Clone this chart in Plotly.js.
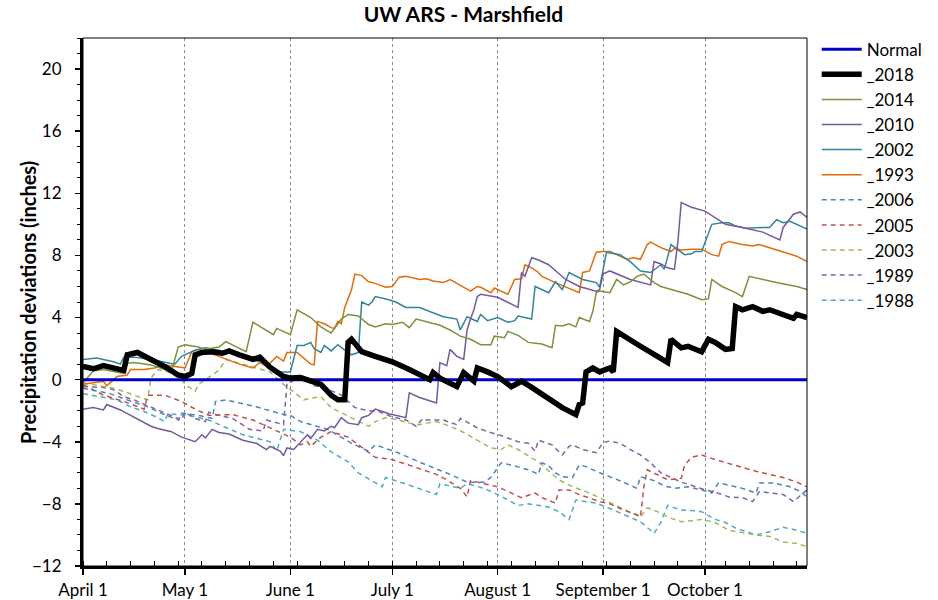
<!DOCTYPE html>
<html>
<head>
<meta charset="utf-8">
<script src="https://cdn.plot.ly/plotly-3.0.1.min.js"></script>
<style>html,body{margin:0;padding:0;background:#fff;}#chart{width:938px;height:600px;}</style>
</head>
<body>
<div id="chart"></div>
<script>
// Day 0 = April 1
const tickDays = [0, 30, 61, 91, 122, 153, 183];
const tickLabels = ["April 1", "May 1", "June 1", "July 1", "August 1", "September 1", "October 1"];
const yTicks = [-12, -8, -4, 0, 4, 8, 12, 16, 20];

const normalDays = [0, 213];
const normalVals = [0, 0];

const d2018 = [0,3,6,11,12,13,16,20,24,28,30,32,33,35,38,41,43,46,50,52,55,59,61,64,70,73,75,77,78,79,82,86,91,96,102,103,105,110,112,115,116,119,122,126,129,132,135,138,141,145,146,147,148,150,152,155,156,157,159,164,169,172,173,176,178,182,184,186,189,191,192,194,197,200,202,206,209,210,213];
const v2018 = [0.85,0.7,0.9,0.65,0.6,1.6,1.75,1.3,0.85,0.3,0.2,0.4,1.6,1.75,1.8,1.7,1.85,1.6,1.3,1.45,0.8,0.2,0.1,0.13,-0.3,-1.0,-1.3,-1.3,2.4,2.6,1.8,1.5,1.15,0.65,0.0,0.45,0.1,-0.45,0.45,-0.1,0.75,0.5,0.2,-0.45,-0.1,-0.5,-0.95,-1.3,-1.8,-2.25,-1.6,-1.5,0.5,0.75,0.5,0.75,0.5,3.1,2.8,2.15,1.5,1.1,2.6,2.05,2.15,1.8,2.6,2.4,1.95,2.0,4.7,4.5,4.7,4.4,4.5,4.2,3.95,4.2,4.0];

const d2014 = [0,3,6,12,13,15,20,26,28,30,34,36,40,42,48,50,56,57,61,63,67,70,73,74,76,78,81,84,86,89,91,94,96,98,102,105,108,111,114,117,120,121,124,125,128,131,135,138,139,141,143,145,146,149,150,151,152,155,157,159,161,163,165,168,170,173,178,182,184,185,188,192,194,196,200,204,210,213];
const v2014 = [-0.2,0.55,0.65,0.4,1.05,1.1,0.95,0.5,2.1,2.25,2.1,1.95,2.1,2.45,1.8,3.7,2.9,3.3,2.9,4.5,4.0,3.4,3.0,3.3,3.9,4.2,4.1,3.55,3.4,3.6,3.55,3.7,3.35,3.9,3.7,3.5,3.2,2.8,2.6,2.25,2.25,2.8,2.7,3.1,2.85,2.4,2.3,2.05,3.5,3.45,3.6,3.4,4.0,3.75,4.4,5.6,5.7,5.6,6.45,6.1,6.3,6.65,6.8,6.25,6.0,5.8,5.5,5.15,5.2,6.45,6.0,5.6,5.35,6.65,6.45,6.25,6.0,5.8];

const d2010 = [0,3,6,7,11,15,20,22,26,29,33,35,36,38,40,43,47,51,54,55,58,59,60,62,64,66,67,69,71,73,74,76,78,81,82,84,86,89,90,95,96,99,104,105,107,108,110,112,113,114,115,116,117,122,125,128,129,130,132,134,137,139,142,146,151,152,153,155,158,161,167,168,170,172,174,175,176,179,183,186,189,194,200,205,206,209,211,213];
const v2010 = [-1.9,-1.8,-1.95,-1.6,-1.95,-2.4,-3.0,-3.15,-3.35,-3.7,-4.0,-3.55,-3.75,-3.2,-3.4,-3.5,-3.9,-4.1,-4.5,-4.3,-4.6,-4.9,-4.4,-4.5,-4.0,-3.55,-3.8,-3.2,-3.3,-3.0,-3.1,-2.45,-2.8,-2.9,-2.45,-2.3,-1.9,-2.1,-2.2,-2.45,-0.85,-1.15,-1.5,1.1,0.9,1.95,1.5,1.3,3.2,3.9,4.5,5.35,5.5,5.3,5.0,4.65,6.9,6.65,7.85,7.7,7.4,7.0,6.45,6.0,5.7,5.8,6.8,7.0,6.75,6.45,6.1,7.6,7.45,7.2,7.1,8.85,11.4,11.1,10.85,10.45,10.0,9.8,9.5,9.0,9.8,10.65,10.8,10.45];

const d2002 = [0,4,9,11,12,15,20,25,27,29,33,36,42,47,51,54,57,61,63,65,67,68,70,71,73,75,77,79,81,82,84,85,86,90,92,95,99,102,106,110,111,113,116,117,119,122,125,127,128,132,133,137,139,141,143,147,151,152,154,158,161,164,167,170,171,173,175,177,179,180,182,183,185,188,190,192,195,200,202,204,206,208,210,213];
const v2002 = [1.3,1.4,1.15,1.0,1.45,1.45,1.3,1.1,1.0,1.5,1.9,2.05,1.8,1.5,1.2,1.0,0.5,0.5,2.2,2.2,2.4,2.0,1.75,2.2,1.85,2.25,1.9,1.6,1.75,5.0,4.8,5.0,5.35,5.15,5.0,4.65,4.65,4.4,4.05,3.9,3.2,4.05,3.75,4.2,3.8,4.0,3.7,3.8,4.1,3.9,6.0,5.6,6.3,5.8,6.9,6.45,6.25,5.95,8.2,8.05,7.6,7.0,6.9,7.4,7.1,8.7,8.4,8.05,8.1,8.25,8.25,8.85,10.0,10.1,10.1,9.9,9.75,9.8,9.8,10.3,10.1,10.2,10.0,9.7];

const d1993 = [0,6,7,9,10,13,14,18,21,24,28,30,32,34,40,46,50,52,54,57,59,60,63,65,67,68,69,71,73,74,75,76,77,79,80,82,84,86,89,91,93,95,99,101,103,106,108,110,114,116,117,120,121,123,125,127,129,130,132,134,135,139,142,146,147,149,151,153,155,158,160,162,164,166,167,170,173,174,176,179,182,185,187,188,190,194,197,199,202,206,210,213];
const v1993 = [-0.3,-0.1,-0.4,0.0,0.2,0.3,0.65,0.65,0.75,0.95,0.8,0.75,1.8,1.95,1.5,1.0,0.75,1.1,0.85,1.5,1.2,1.75,1.75,1.4,1.0,0.95,3.75,3.6,3.35,3.3,3.75,3.6,4.65,5.8,6.8,6.7,6.3,6.2,5.95,6.0,6.6,6.65,6.45,6.5,6.35,6.25,6.45,6.2,5.7,6.0,5.95,5.6,5.9,5.7,5.5,6.45,6.5,7.4,7.2,6.9,6.65,6.25,5.95,5.6,6.9,7.0,8.2,8.25,8.25,7.95,7.75,7.85,7.75,8.7,8.85,8.5,8.25,8.45,8.35,8.4,8.4,8.05,7.95,8.7,8.9,8.7,8.6,8.7,8.5,8.25,7.95,7.6];

const d2006 = [0,8,13,19,24,28,29,34,38,39,42,51,59,61,64,72,79,84,86,92,100,108,113,118,120,121,123,126,131,134,135,137,139,141,144,146,148,152,159,163,164,168,171,174,178,182,185,187,192,194,198,199,203,208,211,213];
const v2006 = [-0.55,-0.9,-1.3,-1.75,-2.25,-2.6,-2.15,-2.3,-2.5,-1.4,-1.3,-1.75,-2.25,-2.3,-2.7,-3.2,-4.1,-4.6,-4.2,-4.65,-5.4,-6.1,-6.6,-6.6,-6.3,-6.0,-5.35,-5.5,-5.8,-6.1,-5.35,-5.55,-6.0,-6.25,-6.3,-5.5,-5.6,-6.0,-6.6,-7.0,-6.25,-6.5,-6.85,-7.0,-6.9,-7.1,-7.3,-6.65,-6.9,-7.0,-7.3,-6.65,-6.65,-6.9,-7.2,-7.55];

const d2005 = [0,6,12,18,19,24,29,33,37,44,50,55,61,64,66,67,70,73,78,81,84,86,91,97,104,107,111,113,114,118,122,125,129,133,135,139,140,143,146,152,155,159,163,164,165,166,169,172,176,177,179,182,186,190,194,198,202,206,210,213];
const v2005 = [-0.3,-1.0,-1.4,-1.9,-1.0,-1.0,-1.4,-1.9,-2.3,-2.25,-2.6,-3.1,-3.7,-4.2,-4.0,-4.3,-3.7,-3.35,-3.7,-4.2,-4.65,-5.0,-5.15,-5.6,-6.1,-6.45,-7.0,-7.55,-6.5,-6.7,-6.9,-7.2,-7.6,-7.3,-7.6,-7.95,-7.1,-7.1,-7.4,-7.85,-8.0,-8.4,-8.7,-8.85,-6.9,-5.8,-6.1,-6.45,-6.35,-5.5,-5.0,-4.85,-5.15,-5.4,-5.7,-5.9,-6.1,-6.3,-6.6,-6.9];

const d2003 = [0,10,15,19,20,22,25,29,30,33,34,36,40,42,49,55,59,62,65,67,70,73,77,81,84,86,89,93,96,99,101,104,108,112,117,120,123,125,128,132,134,140,144,149,152,158,161,164,166,169,172,176,180,182,186,190,194,198,202,206,210,213];
const v2003 = [-0.2,-0.6,-1.0,-1.3,0.1,0.65,0.5,0.0,-0.3,-0.75,-0.3,0.0,0.6,1.3,0.85,0.5,-0.3,-0.8,-1.3,-1.2,-1.1,-1.8,-2.25,-2.7,-3.0,-2.7,-2.45,-2.6,-2.8,-2.9,-2.8,-2.7,-3.0,-3.4,-4.05,-4.4,-4.5,-4.2,-4.5,-5.0,-5.3,-6.45,-6.9,-7.3,-7.6,-8.25,-8.5,-8.85,-8.25,-8.5,-8.85,-9.15,-9.05,-9.0,-9.2,-9.7,-9.85,-10.0,-10.1,-10.45,-10.55,-10.75];

const d1989 = [0,6,9,12,15,20,23,27,29,30,33,36,37,40,44,49,53,54,57,59,60,64,68,71,76,80,84,87,91,95,98,100,101,106,110,111,116,119,123,128,131,133,134,138,141,143,144,147,151,153,155,158,161,164,167,170,173,176,179,183,186,190,194,197,199,202,206,209,211,213];
const v1989 = [-0.45,-0.5,-0.65,-1.1,-1.3,-1.75,-2.05,-2.4,-2.6,-2.1,-2.5,-2.7,-2.1,-2.3,-2.5,-3.2,-3.3,-2.6,-2.8,-2.9,-0.3,0.2,-0.4,-0.5,-1.0,-1.8,-2.0,-2.05,-2.4,-2.6,-3.0,-2.5,-2.6,-2.6,-2.9,-2.5,-3.1,-3.35,-3.6,-4.0,-4.1,-4.6,-3.9,-4.2,-4.85,-4.3,-4.2,-4.5,-4.7,-4.05,-3.95,-4.1,-4.5,-4.85,-5.35,-6.0,-6.3,-6.6,-6.8,-7.1,-7.25,-7.55,-7.6,-7.85,-7.2,-7.3,-7.4,-7.85,-7.5,-7.1];

const d1988 = [0,10,14,18,22,24,25,31,37,47,55,57,59,64,69,73,78,81,88,89,96,104,105,111,113,118,122,128,131,137,140,143,145,151,155,161,164,168,170,172,176,180,182,186,189,192,198,202,206,210,213];
const v1988 = [-0.9,-1.3,-1.75,-2.05,-2.45,-2.7,-2.2,-2.3,-2.6,-3.55,-4.0,-4.6,-3.2,-3.35,-3.9,-4.65,-5.3,-6.0,-6.9,-6.3,-6.8,-7.4,-6.7,-7.0,-6.7,-7.0,-7.4,-8.1,-8.0,-8.2,-8.5,-9.0,-7.75,-7.95,-8.3,-8.85,-9.15,-9.9,-9.2,-8.1,-8.4,-8.45,-8.5,-9.0,-9.2,-9.55,-10.0,-9.8,-9.5,-9.7,-9.9];

const FONT = "Lato, 'Open Sans', sans-serif";

function tr(name, x, y, color, width, dash, rank) {
  return {type: 'scatter', mode: 'lines', name: name, x: x, y: y,
    line: {color: color, width: width, dash: dash || 'solid'},
    legendrank: rank, hoverinfo: 'skip'};
}

const dashPat = '5px,4px';
const traces = [
  tr('_1988', d1988, v1988, '#4BACC6', 1.5, dashPat, 11),
  tr('_1989', d1989, v1989, '#8064A2', 1.5, dashPat, 10),
  tr('_2003', d2003, v2003, '#9BBB59', 1.5, dashPat, 9),
  tr('_2005', d2005, v2005, '#C0504D', 1.5, dashPat, 8),
  tr('_2006', d2006, v2006, '#4F81BD', 1.5, dashPat, 7),
  tr('_1993', d1993, v1993, '#E36C09', 1.5, null, 6),
  tr('_2002', d2002, v2002, '#31859C', 1.5, null, 5),
  tr('_2010', d2010, v2010, '#75599C', 1.5, null, 4),
  tr('_2014', d2014, v2014, '#77933C', 1.5, null, 3),
  tr('Normal', normalDays, normalVals, '#0000CC', 3, null, 1),
  tr('_2018', d2018, v2018, '#000000', 5.5, null, 2)
];

const layout = {
  width: 938, height: 600,
  margin: {l: 83, r: 130, t: 38, b: 34, pad: 0},
  paper_bgcolor: '#ffffff', plot_bgcolor: '#ffffff',
  font: {family: FONT, size: 17, color: '#000'},
  title: {text: '<b>UW ARS - Marshfield</b>', x: 0.494, xref: 'container', xanchor: 'center',
    y: 0.975, yanchor: 'middle',
    font: {family: FONT, size: 21, color: '#000'}},
  showlegend: true,
  legend: {x: 1.012, xanchor: 'left', y: 1.012, yanchor: 'top', bgcolor: 'rgba(0,0,0,0)',
    font: {family: FONT, size: 17}, itemwidth: 40, tracegroupgap: 0},
  xaxis: {range: [0, 213], tickmode: 'array', tickvals: tickDays, ticktext: tickLabels,
    showgrid: true, gridcolor: '#8c8c8c', griddash: '3px,3px', gridwidth: 1,
    showline: true, linecolor: '#000', linewidth: 3, zeroline: false,
    ticks: 'outside', ticklen: 6, tickcolor: '#000', tickwidth: 1.5, ticklabelstandoff: 1,
    tickfont: {family: FONT, size: 17},
    minor: {tickmode: 'linear', tick0: 0, dtick: 7, ticks: 'inside', ticklen: 5, tickcolor: '#000', tickwidth: 1, showgrid: false},
    fixedrange: true},
  yaxis: {range: [-12, 22], tickmode: 'array', tickvals: yTicks,
    showgrid: false, zeroline: false,
    showline: true, linecolor: '#000', linewidth: 3,
    ticks: 'outside', ticklen: 5, tickcolor: '#000', tickwidth: 1.5, ticklabelstandoff: 10,
    tickfont: {family: FONT, size: 17},
    minor: {tickmode: 'linear', tick0: 0, dtick: 1, ticks: 'outside', ticklen: 3, tickcolor: '#000', tickwidth: 1, showgrid: false},
    fixedrange: true},
  annotations: [
    {text: '<b>Precipitation deviations (inches)</b>', xref: 'paper', yref: 'paper',
     x: -0.076, y: 0.5, xanchor: 'center', yanchor: 'middle', textangle: -90, showarrow: false,
     font: {family: FONT, size: 20, color: '#000'}}
  ],
  shapes: [
    {type: 'rect', xref: 'paper', yref: 'paper', x0: 0, x1: 1, y0: 0, y1: 1,
     line: {color: '#000', width: 1}, layer: 'above'}
  ],
  hovermode: false
};

Plotly.newPlot('chart', traces, layout, {displayModeBar: false, staticPlot: true});
</script>
</body>
</html>
